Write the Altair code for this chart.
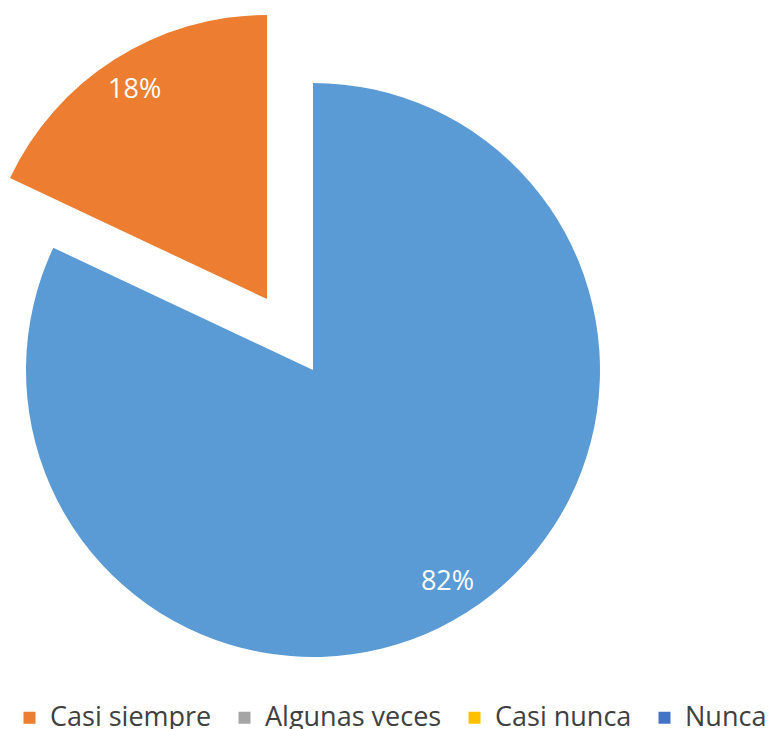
import math
import altair as alt
import pandas as pd

categories = ["Siempre", "Casi siempre", "Algunas veces", "Casi nunca", "Nunca"]
values = [82, 18, 0, 0, 0]
colors = ["#5B9BD5", "#ED7D31", "#A5A5A5", "#FFC000", "#4472C4"]
legend_values = ["Casi siempre", "Algunas veces", "Casi nunca", "Nunca"]

df = pd.DataFrame({"category": categories, "value": values, "idx": list(range(len(categories)))})

base = (
    alt.Chart(df)
    .transform_window(cum="sum(value)", sort=[alt.SortField("idx")], frame=[None, 0])
    .transform_calculate(
        start="datum.cum - datum.value",
        mid="datum.cum - datum.value / 2",
        label="datum.value + '%'",
    )
)

theta_scale = alt.Scale(domain=[0, 100], range=[0, 2 * math.pi])
color = alt.Color(
    "category:N",
    scale=alt.Scale(domain=categories, range=colors),
    legend=alt.Legend(
        title=None,
        orient="none",
        legendX=8,
        legendY=696,
        direction="horizontal",
        values=legend_values,
        symbolType="square",
        symbolSize=144,
        symbolStrokeWidth=0,
        labelFont="Open Sans",
        labelFontSize=27,
        labelColor="#404040",
        labelOffset=7,
        columnPadding=19,
        padding=0,
        labelLimit=400,
    ),
)

cx, cy = 305, 362
ox, oy = 259, 291

main_arc = base.transform_filter("datum.category == 'Siempre'").mark_arc(radius=287).encode(
    theta=alt.Theta("start:Q", scale=theta_scale, stack=False),
    theta2="cum:Q",
    color=color,
    x=alt.value(cx),
    y=alt.value(cy),
)

exp_arc = base.transform_filter("datum.category == 'Casi siempre'").mark_arc(radius=284).encode(
    theta=alt.Theta("start:Q", scale=theta_scale, stack=False),
    theta2="cum:Q",
    color=color,
    x=alt.value(ox),
    y=alt.value(oy),
)

main_txt = base.transform_filter("datum.category == 'Siempre'").mark_text(
    radius=251, font="Open Sans", fontSize=27, color="white"
).encode(
    theta=alt.Theta("mid:Q", scale=theta_scale, stack=False),
    text="label:N",
    x=alt.value(cx),
    y=alt.value(cy),
)

exp_txt = base.transform_filter("datum.category == 'Casi siempre'").mark_text(
    radius=247, font="Open Sans", fontSize=27, color="white"
).encode(
    theta=alt.Theta("mid:Q", scale=theta_scale, stack=False),
    text="label:N",
    x=alt.value(ox),
    y=alt.value(oy),
)

chart = (
    alt.layer(main_arc, exp_arc, main_txt, exp_txt)
    .properties(width=758, height=721, autosize=alt.AutoSizeParams(type="none"), padding=0)
    .configure_view(stroke=None)
)

chart.save("out.html", embed_options={"renderer": "svg", "actions": False})
